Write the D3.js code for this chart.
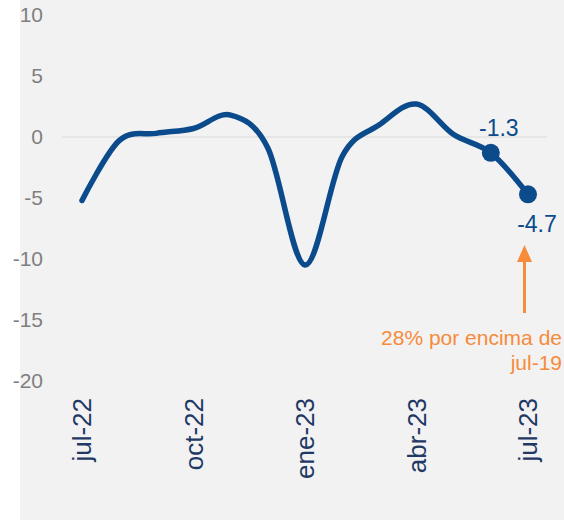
<!DOCTYPE html>
<html>
<head>
<meta charset="utf-8">
<script src="https://cdn.jsdelivr.net/npm/d3@7"></script>
<style>
  body { margin: 0; background: #fff; }
  svg { display: block; font-family: "Liberation Sans", Arial, sans-serif; }
</style>
</head>
<body>
<svg id="chart" width="564" height="520"></svg>
<script>
const months = ["jul-22", "ago-22", "sep-22", "oct-22", "nov-22", "dic-22", "ene-23",
                "feb-23", "mar-23", "abr-23", "may-23", "jun-23", "jul-23"]
const values = [-5.2, -0.3, 0.3, 0.7, 1.8, -0.9, -10.5, -1.6, 1.0, 2.7, 0.2, -1.3, -4.7]
const yTicks = [10, 5, 0, -5, -10, -15, -20]
const xTickLabels = ["jul-22", "oct-22", "ene-23", "abr-23", "jul-23"]
const noteLines = ["28% por encima de", "jul-19"]

const blue = "#0b4a8b"
const orange = "#f68b3b"

const svg = d3.select("#chart")

// gray panel
svg.append("rect")
  .attr("x", 20).attr("y", 0)
  .attr("width", 544).attr("height", 520)
  .attr("fill", "#f2f2f2")

const x = d3.scalePoint()
  .domain(months)
  .range([82, 528])

const y = d3.scaleLinear()
  .domain([-20, 10])
  .range([381, 15])

// y labels
svg.append("g")
  .selectAll("text")
  .data(yTicks)
  .join("text")
  .attr("x", 43)
  .attr("y", d => y(d))
  .attr("dy", "0.35em")
  .attr("text-anchor", "end")
  .attr("fill", "#7f7f7f")
  .attr("font-size", 21)
  .text(d => d)

// zero line
svg.append("line")
  .attr("x1", 62).attr("x2", 547)
  .attr("y1", y(0)).attr("y2", y(0))
  .attr("stroke", "#d9d9d9")
  .attr("stroke-width", 1)

// x labels
svg.append("g")
  .selectAll("text")
  .data(xTickLabels)
  .join("text")
  .attr("transform", d => `translate(${x(d)}, 398) rotate(-90)`)
  .attr("dy", "0.35em")
  .attr("text-anchor", "end")
  .attr("fill", "#1f3864")
  .attr("font-size", 26)
  .text(d => d)

const line = d3.line()
  .x((d, i) => x(months[i]))
  .y(d => y(d))
  .curve(d3.curveCatmullRom.alpha(0))

svg.append("path")
  .datum(values)
  .attr("d", line)
  .attr("fill", "none")
  .attr("stroke", blue)
  .attr("stroke-width", 5.5)
  .attr("stroke-linecap", "round")

// markers on last two points
const last = values.slice(-2).map((v, i) => ({m: months[months.length - 2 + i], v}))
svg.append("g")
  .selectAll("circle")
  .data(last)
  .join("circle")
  .attr("cx", d => x(d.m))
  .attr("cy", d => y(d.v))
  .attr("r", 9)
  .attr("fill", blue)

svg.append("text")
  .attr("x", x(last[0].m) + 8)
  .attr("y", y(last[0].v) - 25)
  .attr("dy", "0.35em")
  .attr("text-anchor", "middle")
  .attr("fill", blue)
  .attr("font-size", 23)
  .text(last[0].v.toFixed(1))

svg.append("text")
  .attr("x", x(last[1].m) + 9)
  .attr("y", y(last[1].v) + 30)
  .attr("dy", "0.35em")
  .attr("text-anchor", "middle")
  .attr("fill", blue)
  .attr("font-size", 23)
  .text(last[1].v.toFixed(1))

// orange arrow
const ax = x(last[1].m) - 3.5
svg.append("line")
  .attr("x1", ax).attr("x2", ax)
  .attr("y1", 313).attr("y2", 258)
  .attr("stroke", orange)
  .attr("stroke-width", 3)
svg.append("path")
  .attr("d", `M${ax},245 L${ax + 7.5},262 L${ax - 7.5},262 Z`)
  .attr("fill", orange)

svg.append("g")
  .selectAll("text")
  .data(noteLines)
  .join("text")
  .attr("x", 562)
  .attr("y", (d, i) => 338 + i * 25)
  .attr("dy", "0.35em")
  .attr("text-anchor", "end")
  .attr("fill", orange)
  .attr("font-size", 21)
  .text(d => d)
</script>
</body>
</html>
